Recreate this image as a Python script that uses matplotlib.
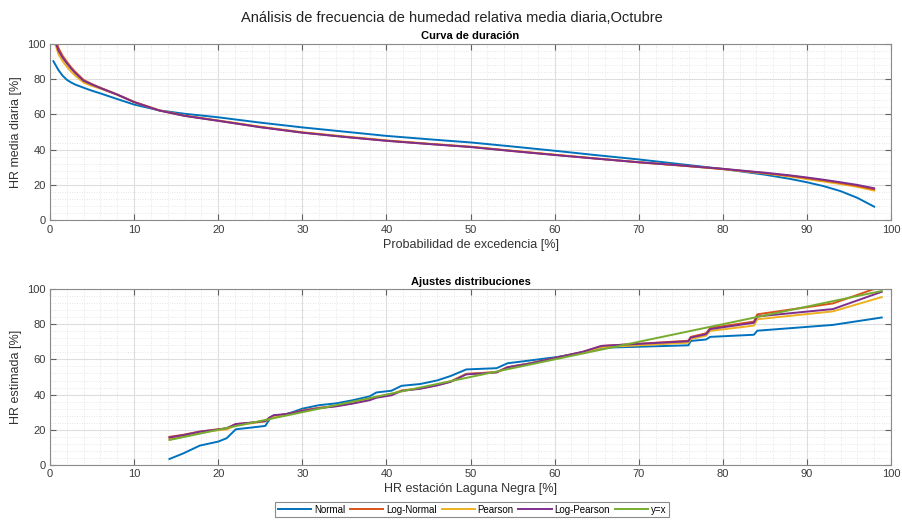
import matplotlib
matplotlib.use('Agg')
import matplotlib.pyplot as plt
from matplotlib.ticker import MultipleLocator

plt.rcParams['font.family'] = ['Liberation Sans', 'DejaVu Sans']

# colores por defecto de MATLAB
colors = ['#0072BD', '#D95319', '#EDB120', '#7E2F8E', '#77AC30']
labels = ['Normal', 'Log-Normal', 'Pearson', 'Log-Pearson', 'y=x']

# Curva de duración: probabilidad de excedencia [%]
prob = [0.4, 1, 1.5, 2, 2.5, 3, 4, 5, 6, 8, 10, 13, 16, 20, 25, 30, 35, 40,
        45, 50, 55, 60, 65, 70, 75, 80, 85, 88, 90, 92, 94, 96, 98]
dur_normal = [90.0, 85.0, 81.8, 79.5, 78.0, 76.8, 75.0, 73.3, 71.8, 68.6,
              65.5, 62.2, 60.3, 58.3, 55.3, 52.6, 50.2, 47.8, 45.9, 44.1,
              41.8, 39.4, 36.9, 34.5, 31.8, 29.1, 25.9, 23.5, 21.6, 19.4,
              16.6, 12.8, 7.8]
dur_lognormal = [107.0, 97.5, 93.0, 89.7, 86.6, 84.0, 79.4, 77.0, 75.0, 71.2,
                 67.0, 62.2, 59.2, 56.4, 52.8, 49.7, 47.3, 45.1, 43.3, 41.6,
                 39.3, 37.1, 35.0, 32.9, 31.1, 29.1, 26.8, 25.2, 24.0, 22.7,
                 21.2, 19.6, 17.6]
dur_pearson = [103.0, 94.0, 90.0, 86.9, 84.2, 81.8, 77.9, 76.0, 74.5, 71.0,
               66.8, 62.2, 59.2, 56.5, 53.0, 49.9, 47.5, 45.3, 43.4, 41.7,
               39.4, 37.2, 35.0, 32.9, 31.0, 29.0, 26.6, 24.8, 23.4, 22.0,
               20.6, 19.0, 16.9]
dur_logpearson = [104.0, 96.0, 92.0, 88.8, 85.9, 83.3, 78.9, 76.8, 74.8, 71.1,
                  66.9, 62.1, 59.1, 56.3, 52.7, 49.6, 47.2, 45.0, 43.2, 41.5,
                  39.2, 37.0, 34.9, 32.9, 31.1, 29.2, 27.0, 25.5, 24.3, 23.0,
                  21.6, 20.1, 18.2]

# Ajustes: HR observada en Laguna Negra [%] vs HR estimada
hr_obs = [14.2, 15.9, 17.8, 20.0, 21.0, 22.1, 23.8, 25.6, 26.1, 26.6, 28.0,
          29.0, 30.0, 32.0, 34.0, 36.0, 38.0, 38.8, 40.6, 41.8, 44.0, 46.0,
          47.6, 49.5, 53.1, 54.4, 57.1, 60.2, 63.4, 65.6, 75.9, 76.2, 78.0,
          78.5, 83.7, 84.1, 93.1, 98.9]
est_normal = [3.4, 6.7, 11.0, 13.3, 15.2, 20.3, 21.2, 22.2, 26.0, 27.8, 28.8,
              30.3, 32.0, 34.0, 35.0, 36.8, 39.0, 41.2, 42.2, 45.0, 46.0, 48.0,
              50.5, 54.3, 55.0, 57.8, 59.4, 61.3, 63.8, 66.6, 68.0, 70.5, 71.3,
              72.8, 74.0, 76.3, 79.6, 83.8]
est_lognormal = [16.0, 17.2, 19.0, 20.3, 20.8, 23.2, 24.0, 25.0, 26.8, 28.0, 28.8,
                 29.8, 31.0, 32.5, 33.5, 35.2, 37.2, 38.5, 40.0, 42.3, 43.5, 45.3,
                 47.3, 51.8, 52.8, 55.6, 57.8, 61.0, 64.3, 67.6, 70.6, 72.8, 74.8,
                 77.8, 81.5, 85.6, 91.8, 101.5]
est_pearson = [15.0, 16.7, 18.5, 19.8, 20.2, 22.6, 23.6, 24.8, 26.3, 27.6, 28.5,
               29.5, 30.8, 32.4, 33.6, 35.3, 37.5, 38.8, 40.2, 42.3, 43.6, 45.5,
               47.5, 51.6, 52.7, 55.3, 57.6, 60.8, 63.9, 66.9, 69.5, 71.6, 73.5,
               76.2, 79.2, 82.8, 87.3, 95.4]
est_logpearson = [15.6, 17.0, 18.9, 20.2, 20.9, 23.3, 24.0, 24.9, 27.0, 28.3, 28.9,
                  29.7, 30.8, 32.3, 33.3, 34.9, 36.8, 38.2, 39.6, 42.1, 43.3, 45.2,
                  47.2, 51.5, 52.6, 55.5, 57.7, 61.0, 64.4, 67.7, 70.3, 72.4, 74.3,
                  77.2, 80.8, 84.4, 88.6, 98.4]


def style_axes(ax):
    # aspecto tipo MATLAB: caja, ticks hacia dentro, grilla mayor y menor
    ax.set_xlim(0, 100)
    ax.set_ylim(0, 100)
    ax.xaxis.set_major_locator(MultipleLocator(10))
    ax.xaxis.set_minor_locator(MultipleLocator(2))
    ax.yaxis.set_major_locator(MultipleLocator(20))
    ax.yaxis.set_minor_locator(MultipleLocator(4))
    ax.grid(which='major', color='#dedede', linewidth=0.8, linestyle='-')
    ax.grid(which='minor', color='#d0d0d0', linewidth=0.5, linestyle=(0, (1, 2.5)))
    ax.set_axisbelow(True)
    for s in ax.spines.values():
        s.set_color('#8a8a8a')
        s.set_linewidth(0.8)
    ax.tick_params(which='major', direction='in', length=4, width=0.8,
                   color='#606060', top=True, right=True, labelsize=8,
                   labelcolor='#3a3a3a', pad=3)
    ax.tick_params(which='minor', length=0, top=True, right=True)


fig = plt.figure(figsize=(9.03, 5.21), dpi=100)
ax1 = fig.add_axes([0.0554, 0.5768, 0.9313, 0.3397])
ax2 = fig.add_axes([0.0554, 0.1075, 0.9313, 0.3378])

fig.text(0.5, 0.965, 'Análisis de frecuencia de humedad relativa media diaria,Octubre',
         ha='center', va='center', fontsize=10.5, color='#222222')

# Curva de duración
dur_series = [dur_normal, dur_lognormal, dur_pearson, dur_logpearson]
for i in [0, 2, 1, 3]:
    ax1.plot(prob, dur_series[i], color=colors[i], lw=1.4)
style_axes(ax1)
ax1.set_title('Curva de duración', fontsize=8, fontweight='bold', pad=3)
ax1.set_xlabel('Probabilidad de excedencia [%]', fontsize=9, color='#333333', labelpad=3)
ax1.set_ylabel('HR media diaria [%]', fontsize=9, color='#333333', labelpad=4)

# Ajustes distribuciones
est_series = [est_normal, est_lognormal, est_pearson, est_logpearson]
for i in range(4):
    ax2.plot(hr_obs, est_series[i], color=colors[i], lw=1.4, label=labels[i])
ax2.plot(hr_obs, hr_obs, color=colors[4], lw=1.4, label=labels[4])
style_axes(ax2)
ax2.set_title('Ajustes distribuciones', fontsize=8, fontweight='bold', pad=3)
ax2.set_xlabel('HR estación Laguna Negra [%]', fontsize=9, color='#333333', labelpad=3)
ax2.set_ylabel('HR estimada [%]', fontsize=9, color='#333333', labelpad=4)

leg = fig.legend(loc='center', bbox_to_anchor=(0.523, 0.022), ncol=5, fontsize=7,
                 handlelength=3.4, handletextpad=0.3, columnspacing=0.5,
                 fancybox=False, framealpha=1, borderpad=0.3, borderaxespad=0)
leg.get_frame().set_edgecolor('#8a8a8a')
leg.get_frame().set_linewidth(0.8)

fig.savefig('out.png', dpi=100)
